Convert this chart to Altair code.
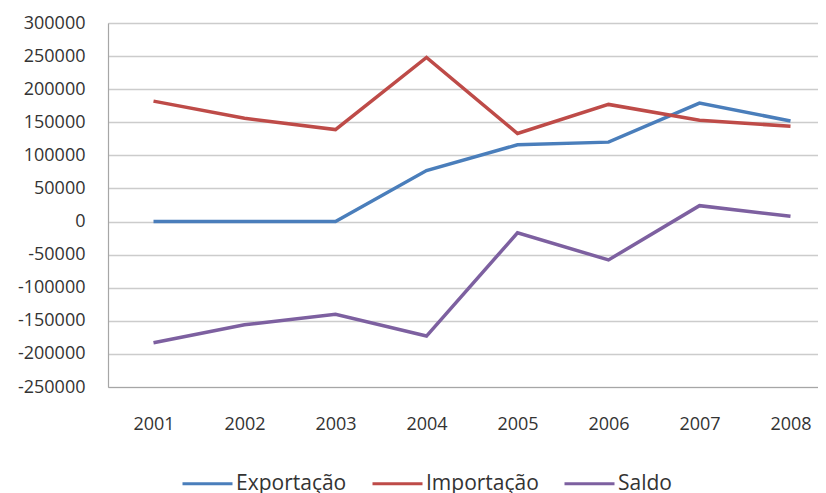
import altair as alt
import pandas as pd

years = ["2001", "2002", "2003", "2004", "2005", "2006", "2007", "2008"]
exportacao = [0, 0, 0, 77000, 116000, 120000, 179000, 152000]
importacao = [182000, 156000, 139000, 248000, 133000, 177000, 153000, 144000]
saldo = [-183000, -156000, -140000, -173000, -17000, -58000, 24000, 8000]

series_names = ["Exportação", "Importação", "Saldo"]
series_colors = ["#4A7EBB", "#BE4B48", "#7D60A0"]

rows = []
for name, vals in zip(series_names, [exportacao, importacao, saldo]):
    for y, v in zip(years, vals):
        rows.append({"Ano": y, "Valor": v, "Série": name})
df = pd.DataFrame(rows)

FONT = "Open Sans"

chart = alt.Chart(df).mark_line(strokeWidth=3.5, strokeJoin="miter").encode(
    x=alt.X("Ano:O", sort=years,
            scale=alt.Scale(type="point", padding=0.5),
            axis=alt.Axis(title=None, labelAngle=0, ticks=False, grid=False,
                          domainColor="#a6a6a6", domainWidth=1.2,
                          labelPadding=28, labelFontSize=18, labelFont=FONT,
                          labelColor="#333333")),
    y=alt.Y("Valor:Q",
            scale=alt.Scale(domain=[-250000, 300000], nice=False, zero=False),
            axis=alt.Axis(title=None, values=list(range(-250000, 300001, 50000)),
                          labelExpr="'' + datum.value", ticks=False, grid=True,
                          gridColor="#cccccc", gridWidth=1.5,
                          domainColor="#a6a6a6", domainWidth=1.2,
                          labelPadding=23, labelFontSize=18, labelFont=FONT,
                          labelColor="#333333")),
    color=alt.Color("Série:N", sort=series_names,
                    scale=alt.Scale(domain=series_names, range=series_colors),
                    legend=alt.Legend(title=None, orient="none", direction="horizontal",
                                      legendX=73, legendY=434,
                                      symbolType="stroke", symbolSize=2500,
                                      symbolStrokeWidth=3, labelOffset=2,
                                      columnPadding=19,
                                      labelFontSize=21, labelFont=FONT,
                                      labelColor="#333333")),
).properties(
    width=728, height=364,
    autosize=alt.AutoSizeParams(type="none"),
    padding={"left": 100, "top": 15, "right": -18, "bottom": 112},
).configure_view(stroke=None).configure(background="white")

chart.save("out.html", embed_options={"renderer": "svg", "actions": False})
